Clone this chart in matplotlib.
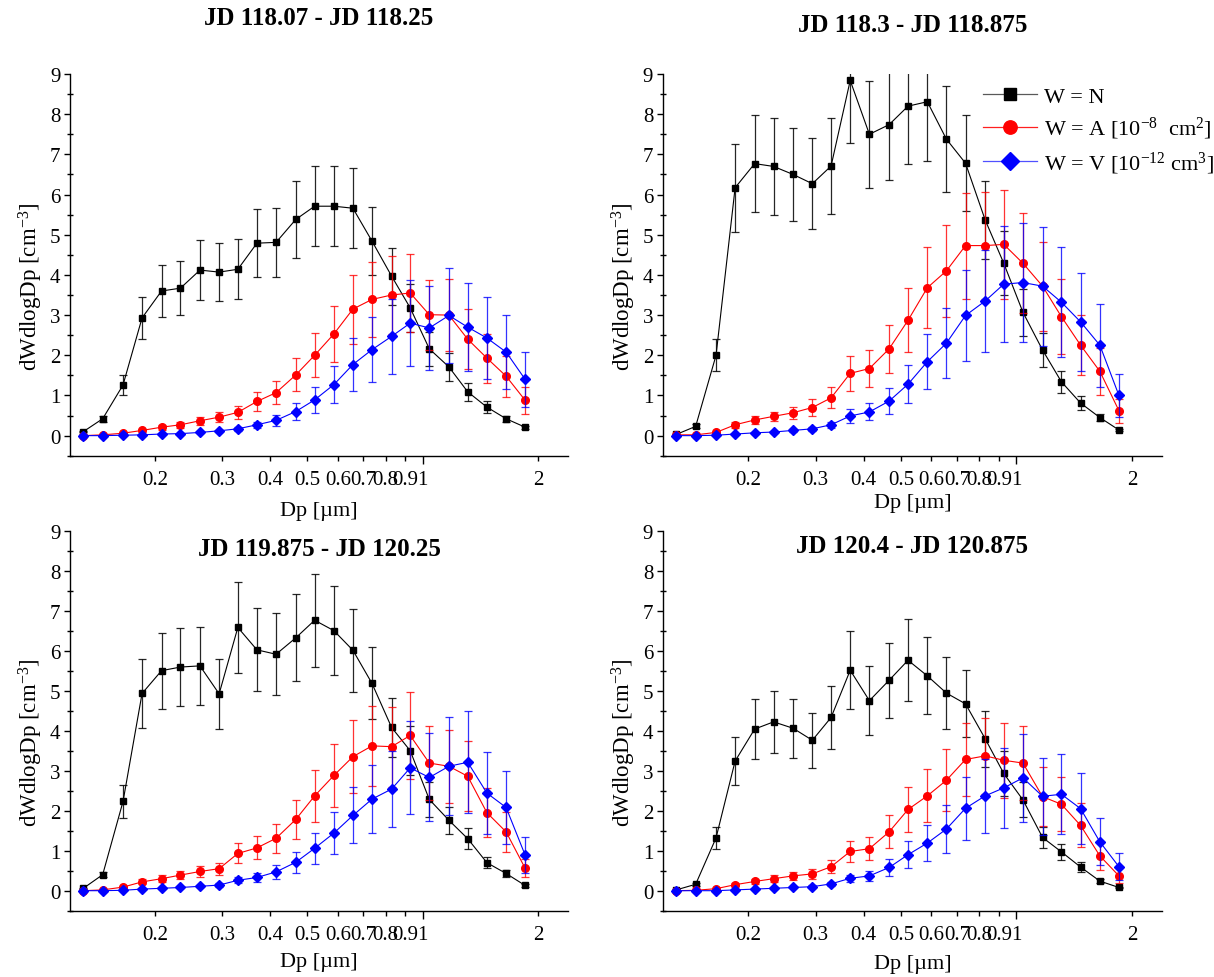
import numpy as np
import matplotlib
matplotlib.use('Agg')
import matplotlib.pyplot as plt
from matplotlib.lines import Line2D
from matplotlib.ticker import FixedLocator, FixedFormatter

plt.rcParams['font.family'] = ['Liberation Serif', 'DejaVu Serif']
plt.rcParams['mathtext.fontset'] = 'custom'
plt.rcParams['mathtext.rm'] = 'Liberation Serif'
plt.rcParams['mathtext.it'] = 'Liberation Serif:italic'
plt.rcParams['mathtext.default'] = 'regular'

# particle diameter bins [um]
dp = [0.130, 0.146, 0.165, 0.185, 0.208, 0.233, 0.262, 0.294, 0.329, 0.369, 0.414, 0.466,
      0.522, 0.586, 0.657, 0.737, 0.829, 0.927, 1.04, 1.17, 1.31, 1.47, 1.65, 1.85]

titles = ['JD 118.07 - JD 118.25', 'JD 118.3 - JD 118.875',
          'JD 119.875 - JD 120.25', 'JD 120.4 - JD 120.875']

# JD 118.07 - 118.25
n1 = [0.10, 0.42, 1.26, 2.93, 3.60, 3.67, 4.12, 4.07, 4.14, 4.79, 4.81, 5.38,
      5.71, 5.71, 5.66, 4.84, 3.97, 3.18, 2.16, 1.71, 1.09, 0.71, 0.42, 0.21]
n1_err = [0.02, 0.08, 0.25, 0.53, 0.65, 0.67, 0.74, 0.73, 0.75, 0.85, 0.86, 0.95,
          1.00, 1.00, 1.00, 0.85, 0.71, 0.59, 0.43, 0.34, 0.22, 0.14, 0.08, 0.04]
a1 = [0.00, 0.02, 0.06, 0.13, 0.21, 0.27, 0.37, 0.46, 0.58, 0.85, 1.07, 1.51,
      2.00, 2.53, 3.15, 3.39, 3.50, 3.55, 3.01, 3.00, 2.40, 1.93, 1.48, 0.88]
a1_err = [0.00, 0.01, 0.02, 0.04, 0.06, 0.07, 0.10, 0.12, 0.16, 0.23, 0.29, 0.41,
          0.55, 0.70, 0.86, 0.93, 0.97, 0.98, 0.87, 0.89, 0.75, 0.61, 0.51, 0.34]
v1 = [0.00, 0.00, 0.01, 0.02, 0.04, 0.05, 0.08, 0.12, 0.17, 0.27, 0.38, 0.60,
      0.89, 1.27, 1.77, 2.14, 2.47, 2.80, 2.68, 2.99, 2.70, 2.43, 2.08, 1.40]
v1_err = [0.00, 0.00, 0.00, 0.01, 0.01, 0.02, 0.02, 0.03, 0.05, 0.07, 0.14, 0.22,
          0.33, 0.47, 0.67, 0.81, 0.94, 1.07, 1.04, 1.19, 1.09, 1.02, 0.92, 0.68]

# JD 118.3 - 118.875
n2 = [0.03, 0.23, 2.00, 6.17, 6.77, 6.70, 6.50, 6.27, 6.71, 8.84, 7.50, 7.74,
      8.20, 8.31, 7.38, 6.78, 5.37, 4.29, 3.07, 2.13, 1.34, 0.81, 0.45, 0.14]
n2_err = [0.01, 0.05, 0.40, 1.10, 1.20, 1.20, 1.16, 1.13, 1.20, 1.55, 1.33, 1.37,
          1.45, 1.47, 1.31, 1.20, 0.97, 0.80, 0.58, 0.42, 0.28, 0.18, 0.09, 0.03]
a2 = [0.02, 0.02, 0.08, 0.27, 0.39, 0.48, 0.57, 0.70, 0.94, 1.55, 1.67, 2.16,
      2.87, 3.68, 4.10, 4.73, 4.73, 4.76, 4.29, 3.72, 2.96, 2.25, 1.60, 0.62]
a2_err = [0.00, 0.01, 0.02, 0.07, 0.09, 0.12, 0.15, 0.20, 0.26, 0.43, 0.46, 0.60,
          0.80, 1.01, 1.14, 1.32, 1.34, 1.35, 1.24, 1.11, 0.93, 0.74, 0.58, 0.30]
v2 = [0.00, 0.00, 0.01, 0.04, 0.07, 0.09, 0.13, 0.17, 0.27, 0.49, 0.59, 0.86,
      1.28, 1.84, 2.30, 2.99, 3.35, 3.77, 3.81, 3.72, 3.32, 2.83, 2.25, 1.00]
v2_err = [0.00, 0.00, 0.00, 0.01, 0.02, 0.03, 0.04, 0.05, 0.07, 0.18, 0.21, 0.32,
          0.48, 0.69, 0.87, 1.13, 1.27, 1.45, 1.49, 1.48, 1.37, 1.22, 1.03, 0.54]

# JD 119.875 - 120.25
n3 = [0.06, 0.40, 2.23, 4.93, 5.50, 5.59, 5.62, 4.92, 6.58, 6.02, 5.91, 6.32,
      6.76, 6.50, 6.01, 5.18, 4.08, 3.50, 2.28, 1.76, 1.30, 0.70, 0.43, 0.13]
n3_err = [0.01, 0.06, 0.42, 0.87, 0.95, 0.97, 0.98, 0.87, 1.13, 1.04, 1.02, 1.09,
          1.16, 1.12, 1.04, 0.90, 0.73, 0.62, 0.44, 0.34, 0.26, 0.14, 0.08, 0.03]
a3 = [0.00, 0.02, 0.09, 0.22, 0.30, 0.39, 0.48, 0.55, 0.93, 1.07, 1.31, 1.78,
      2.37, 2.88, 3.35, 3.62, 3.60, 3.88, 3.19, 3.11, 2.86, 1.95, 1.47, 0.56]
a3_err = [0.00, 0.01, 0.03, 0.06, 0.08, 0.11, 0.14, 0.15, 0.25, 0.29, 0.36, 0.48,
          0.65, 0.79, 0.91, 1.00, 1.00, 1.08, 0.92, 0.91, 0.87, 0.62, 0.50, 0.23]
v3 = [0.00, 0.00, 0.01, 0.04, 0.06, 0.08, 0.11, 0.14, 0.26, 0.33, 0.47, 0.71,
      1.06, 1.44, 1.88, 2.29, 2.54, 3.07, 2.83, 3.11, 3.21, 2.44, 2.08, 0.89]
v3_err = [0.00, 0.00, 0.00, 0.01, 0.02, 0.02, 0.03, 0.04, 0.07, 0.11, 0.17, 0.26,
          0.39, 0.53, 0.70, 0.86, 0.96, 1.16, 1.10, 1.22, 1.27, 1.02, 0.91, 0.45]

# JD 120.4 - 120.875
n4 = [0.02, 0.16, 1.32, 3.24, 4.04, 4.22, 4.06, 3.76, 4.33, 5.51, 4.75, 5.26,
      5.76, 5.37, 4.94, 4.67, 3.80, 2.93, 2.27, 1.33, 0.97, 0.59, 0.24, 0.08]
n4_err = [0.01, 0.04, 0.27, 0.60, 0.74, 0.77, 0.74, 0.69, 0.78, 0.98, 0.86, 0.94,
          1.03, 0.96, 0.89, 0.84, 0.70, 0.56, 0.44, 0.27, 0.20, 0.13, 0.05, 0.02]
a4 = [0.00, 0.01, 0.05, 0.15, 0.23, 0.30, 0.37, 0.42, 0.60, 0.98, 1.05, 1.47,
      2.03, 2.37, 2.76, 3.28, 3.37, 3.26, 3.19, 2.35, 2.16, 1.63, 0.87, 0.37]
a4_err = [0.00, 0.00, 0.02, 0.04, 0.06, 0.08, 0.10, 0.12, 0.17, 0.27, 0.29, 0.41,
          0.56, 0.66, 0.77, 0.92, 0.95, 0.94, 0.93, 0.73, 0.68, 0.55, 0.35, 0.19]
v4 = [0.00, 0.00, 0.00, 0.02, 0.04, 0.06, 0.08, 0.10, 0.17, 0.31, 0.37, 0.58,
      0.90, 1.19, 1.54, 2.06, 2.37, 2.57, 2.82, 2.36, 2.41, 2.05, 1.22, 0.60]
v4_err = [0.00, 0.00, 0.00, 0.01, 0.01, 0.02, 0.02, 0.03, 0.05, 0.09, 0.13, 0.22,
          0.34, 0.45, 0.59, 0.79, 0.92, 1.00, 1.10, 0.96, 1.00, 0.89, 0.59, 0.34]

labels = ['W = N', r'W = A [10$^{-8}$  cm$^{2}$]', r'W = V [10$^{-12}$ cm$^{3}$]']

panels = [(n1, n1_err, a1, a1_err, v1, v1_err),
          (n2, n2_err, a2, a2_err, v2, v2_err),
          (n3, n3_err, a3, a3_err, v3, v3_err),
          (n4, n4_err, a4, a4_err, v4, v4_err)]

# axes rectangles in figure fraction, title / xlabel offsets in axes fraction
rects = [[0.0577, 0.5330, 0.4102, 0.3903],
         [0.5461, 0.5330, 0.4110, 0.3903],
         [0.0577, 0.0678, 0.4102, 0.3886],
         [0.5461, 0.0678, 0.4110, 0.3886]]
title_y = [1.149, 1.131, 0.952, 0.960]
xlab_y = [-0.118, -0.097, -0.108, -0.114]

xt_minor = [0.2, 0.3, 0.4, 0.5, 0.6, 0.7, 0.8, 0.9, 2]

fig = plt.figure(figsize=(12.14, 9.78), dpi=100)

for i, (n, ne, a, ae, v, ve) in enumerate(panels):
    ax = fig.add_axes(rects[i])
    styles = [(n, ne, 'k', (0, 0, 0, 0.85), '0.35', 's', 5.0),
              (a, ae, 'r', (1, 0, 0, 0.8), '#ff2020', 'o', 5.5),
              (v, ve, 'b', (0, 0, 1, 0.8), '#5050ff', 'D', 5.0)]
    handles = []
    for j, (y, e, c, ec, lc, m, ms) in enumerate(styles):
        ax.errorbar(dp, y, yerr=e, color=c, marker=m, ms=ms, lw=0.8,
                    elinewidth=0.9, capsize=3, capthick=0.9, ecolor=ec,
                    zorder=2 + j)
        handles.append(Line2D([], [], color=lc, marker=m, ms=ms * 1.75, lw=0.9,
                              markerfacecolor=c, markeredgecolor=c))

    ax.set_xscale('log')
    ax.set_xlim(0.12, 2.394)
    ax.set_ylim(-0.5, 9)
    for s in ['top', 'right']:
        ax.spines[s].set_visible(False)
    for s in ['left', 'bottom']:
        ax.spines[s].set_linewidth(1.0)

    ax.xaxis.set_major_locator(FixedLocator([1]))
    ax.xaxis.set_major_formatter(FixedFormatter(['1']))
    ax.xaxis.set_minor_locator(FixedLocator(xt_minor))
    ax.xaxis.set_minor_formatter(FixedFormatter(['0.2', '0.3', '0.4', '0.5', '0.6',
                                                 '0.7', '0.8', '0.9', '2']))
    ax.set_yticks(range(10))
    ax.set_yticks(np.arange(-0.5, 9, 1.0), minor=True)
    ax.tick_params(axis='x', which='major', direction='out', length=6, width=1.0,
                   labelsize=15, pad=4)
    ax.tick_params(axis='x', which='minor', direction='out', length=3.5, width=1.0,
                   labelsize=15, pad=6.5)
    ax.tick_params(axis='y', which='major', direction='out', length=4, width=1.0,
                   labelsize=15, pad=3)
    ax.tick_params(axis='y', which='minor', direction='inout', length=4, width=1.0)

    ax.set_ylabel(r'dWdlogDp [cm$^{-3}$]', fontsize=16.5)
    ax.yaxis.set_label_coords(-0.05, 0.445)
    ax.set_xlabel(u'Dp [\u00b5m]', fontsize=16)
    ax.xaxis.set_label_coords(0.5, xlab_y[i])
    ax.text(0.5, title_y[i], titles[i], transform=ax.transAxes, ha='center',
            va='center', fontsize=18, fontweight='bold')

    if i == 1:
        leg = ax.legend(handles, labels, loc='upper left',
                        bbox_to_anchor=(983 / 1214, 1 - 87 / 978),
                        bbox_transform=fig.transFigure, frameon=False, fontsize=16,
                        handlelength=2.45, handletextpad=0.3,
                        borderpad=0, borderaxespad=0, labelspacing=0.38)

fig.savefig('out.png', dpi=100)
